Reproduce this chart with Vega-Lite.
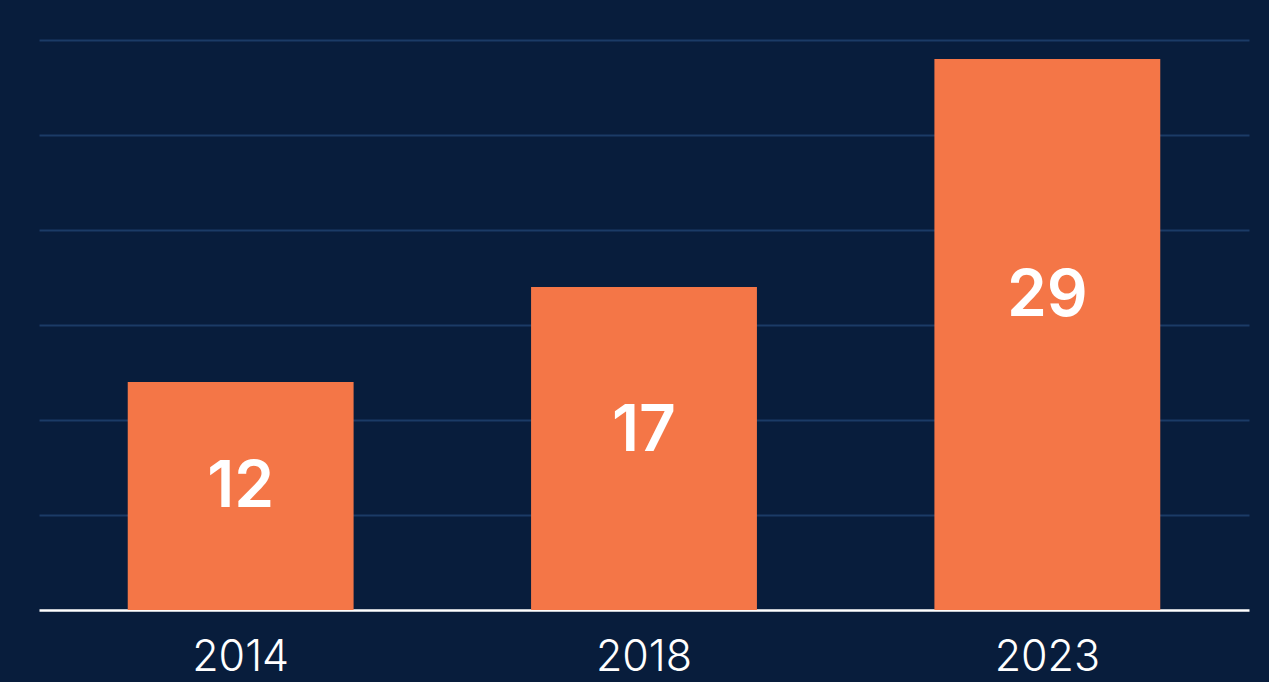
{
  "$schema": "https://vega.github.io/schema/vega-lite/v6.json",
  "width": 1210,
  "height": 570,
  "autosize": {"type": "none"},
  "padding": {"left": 39, "top": 40, "right": 20, "bottom": 72},
  "background": "#081d3c",
  "config": {
    "view": {"stroke": null},
    "font": "Inter"
  },
  "data": {
    "values": [
      {"year": "2014", "value": 12},
      {"year": "2018", "value": 17},
      {"year": "2023", "value": 29}
    ]
  },
  "encoding": {
    "x": {
      "field": "year",
      "type": "ordinal",
      "scale": {"paddingInner": 0.44, "paddingOuter": 0.22},
      "axis": {
        "title": null,
        "labelAngle": 0,
        "labelFontSize": 43,
        "labelColor": "#ffffff",
        "labelFont": "Inter",
        "labelFontWeight": 300,
        "labelPadding": 26,
        "ticks": false,
        "domainColor": "#ffffff",
        "domainWidth": 2.5,
        "grid": false
      }
    }
  },
  "layer": [
    {
      "mark": {"type": "bar", "color": "#f47647"},
      "encoding": {
        "y": {
          "field": "value",
          "type": "quantitative",
          "scale": {"domain": [0, 30], "nice": false},
          "axis": {
            "title": null,
            "labels": false,
            "ticks": false,
            "domain": false,
            "values": [5, 10, 15, 20, 25, 30],
            "gridColor": "#1b3b66",
            "gridWidth": 2
          }
        }
      }
    },
    {
      "transform": [{"calculate": "datum.value * 0.594 - 0.73", "as": "labelPos"}],
      "mark": {
        "type": "text",
        "color": "#ffffff",
        "fontSize": 64,
        "fontWeight": 600,
        "baseline": "middle",
        "align": "center"
      },
      "encoding": {
        "y": {"field": "labelPos", "type": "quantitative", "scale": {"domain": [0, 30], "nice": false}},
        "text": {"field": "value", "type": "quantitative"}
      }
    }
  ]
}
